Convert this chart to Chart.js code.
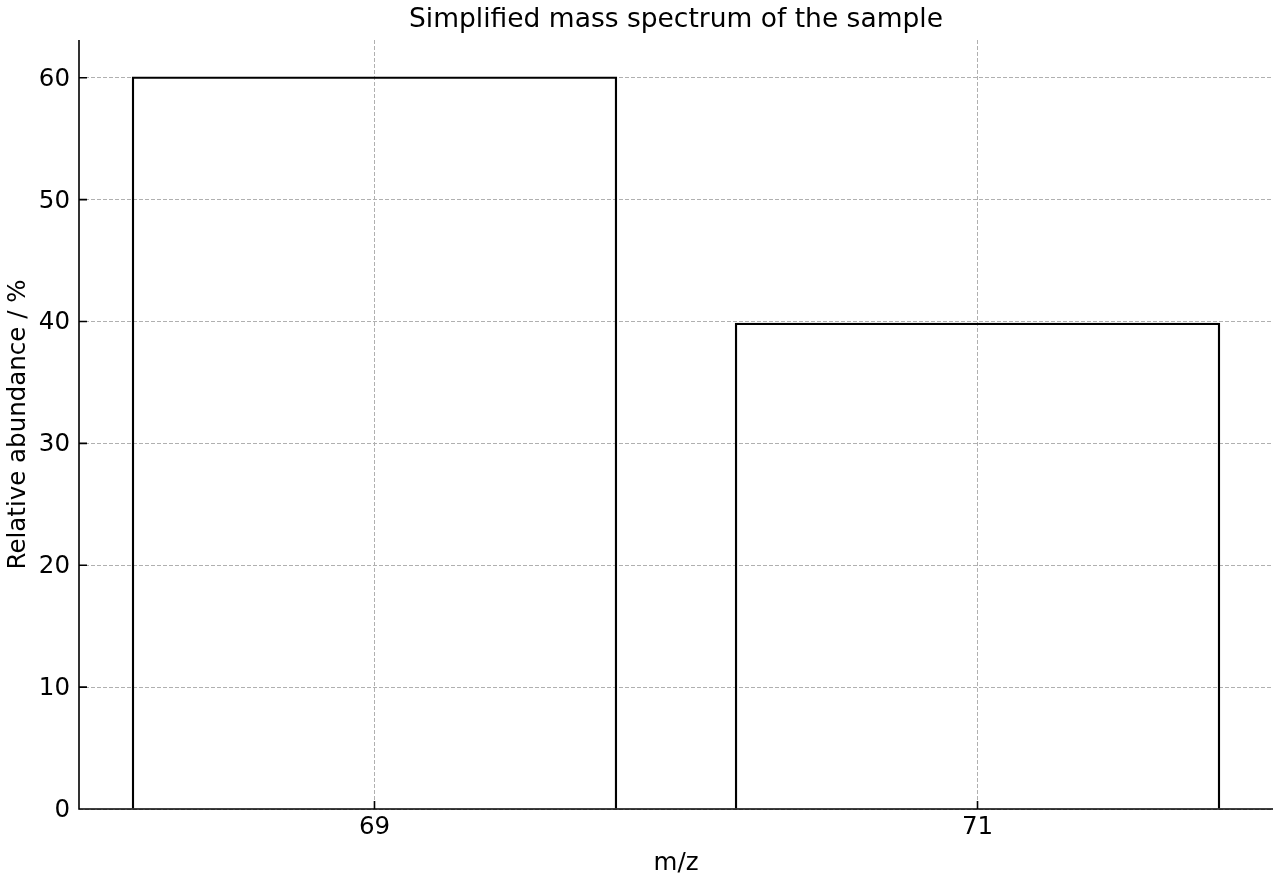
<!DOCTYPE html>
<html><head><meta charset="utf-8">
<script src="https://cdn.jsdelivr.net/npm/chart.js@4/dist/chart.umd.min.js"></script>
<style>html,body{margin:0;padding:0;background:#fff}#wrap{width:1280px;height:880px}</style>
</head><body><div id="wrap"><canvas id="c" width="1280" height="880"></canvas></div>
<script>
const massToCharge = [69, 71];
const abundance = [60.1, 39.9];
const xTicks = [69, 71];
const yTicks = [0, 10, 20, 30, 40, 50, 60];
const xLimits = [68.02, 71.98];
const yLimits = [0, 63.1];

const FONT = "'DejaVu Sans', sans-serif";

const axesDecor = {
  id: 'axesDecor',
  afterDraw(chart) {
    const {ctx, chartArea: a, scales: {x, y}} = chart;
    ctx.save();
    ctx.strokeStyle = '#000';
    ctx.lineWidth = 1.6;
    ctx.setLineDash([]);
    ctx.beginPath();
    ctx.moveTo(a.left, a.top);
    ctx.lineTo(a.left, a.bottom);
    ctx.lineTo(a.right, a.bottom);
    xTicks.forEach(v => { const px = x.getPixelForValue(v); ctx.moveTo(px, a.bottom); ctx.lineTo(px, a.bottom - 8); });
    yTicks.forEach(v => { const py = y.getPixelForValue(v); ctx.moveTo(a.left, py); ctx.lineTo(a.left + 8, py); });
    ctx.stroke();
    ctx.restore();
  }
};

new Chart(document.getElementById('c'), {
  type: 'bar',
  data: {
    datasets: [{
      data: massToCharge.map((m, i) => ({x: m, y: abundance[i]})),
      backgroundColor: 'rgba(0,0,0,0)',
      borderColor: '#000',
      borderWidth: 2.3,
      borderSkipped: 'start',
      categoryPercentage: 1,
      barPercentage: 0.805
    }]
  },
  plugins: [axesDecor],
  options: {
    responsive: false,
    animation: false,
    devicePixelRatio: 1,
    layout: {padding: {left: 0, right: 7, top: 0, bottom: 0}},
    plugins: {
      legend: {display: false},
      tooltip: {enabled: false},
      title: {
        display: true,
        fullSize: false,
        text: 'Simplified mass spectrum of the sample',
        color: '#000',
        font: {family: FONT, size: 26.5, weight: 'normal'},
        padding: {top: 4.5, bottom: 3.7}
      }
    },
    scales: {
      x: {
        type: 'linear',
        offset: false,
        min: xLimits[0],
        max: xLimits[1],
        afterBuildTicks: s => { s.ticks = xTicks.map(v => ({value: v})); },
        afterFit: s => { s.height = 71; },
        grid: {offset: false, color: '#b0b0b0', lineWidth: 1, drawTicks: false},
        border: {display: false, dash: [4, 2]},
        ticks: {color: '#000', font: {family: FONT, size: 24.5}, padding: 4, maxRotation: 0,
          callback: v => String(v)},
        title: {display: true, text: 'm/z', color: '#000', font: {family: FONT, size: 24.5}, padding: {top: 1.3, bottom: 1.3}}
      },
      y: {
        min: yLimits[0],
        max: yLimits[1],
        afterBuildTicks: s => { s.ticks = yTicks.map(v => ({value: v})); },
        afterFit: s => { s.width = 79; },
        grid: {color: '#b0b0b0', lineWidth: 1, drawTicks: false},
        border: {display: false, dash: [4, 2]},
        ticks: {color: '#000', font: {family: FONT, size: 24.5}, padding: 9, labelOffset: 1.5,
          callback: v => String(v)},
        title: {display: true, text: 'Relative abundance / %', color: '#000', font: {family: FONT, size: 24.5}, padding: {top: 4.3, bottom: 4.3}}
      }
    }
  }
});
</script></body></html>
